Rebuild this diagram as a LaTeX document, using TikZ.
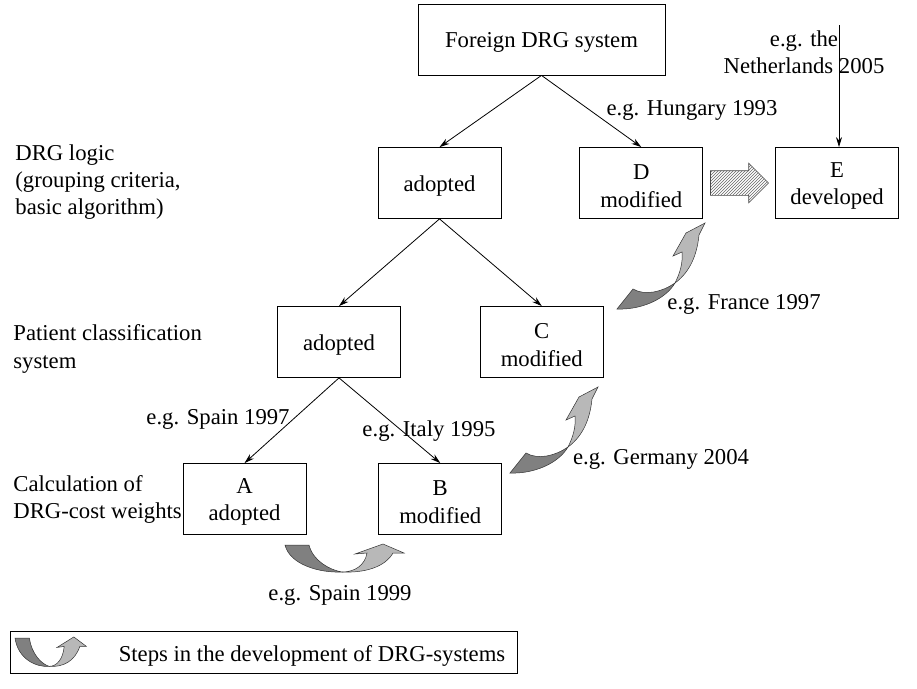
\documentclass[tikz,border=0pt]{standalone}
\usepackage{fontspec}
\setmainfont{Liberation Serif}
\usepackage{tikz}
\usetikzlibrary{positioning, arrows.meta, shapes.arrows, patterns}
\usepackage{xcolor}

\definecolor{ribbondark}{gray}{0.5}
\definecolor{ribbonlight}{gray}{0.72}

\tikzset{
	uturn/.pic={
		\filldraw[fill=ribbondark, draw=black!80, line width=0.5pt] (0,0) .. controls (5,20) and (35,28) .. (57,27) .. controls (45,25) and (28,16) .. (24,0) -- cycle;
		\filldraw[fill=ribbonlight, draw=black!80, line width=0.5pt] (57,27) .. controls (70,27) and (80,20) .. (82,8) -- (70,9) -- (98,-1) -- (119,8) -- (108,8) .. controls (100,22) and (80,28) .. (57,27) -- cycle;
	},
	twist/.pic={
		\filldraw[fill=ribbondark, draw=black!80, line width=0.5pt] (0,0) -- (16,-20) .. controls (28,-13) and (45,-17) .. (58,-26) .. controls (48,-9) and (23,1) .. (0,0) -- cycle;
		\filldraw[fill=ribbonlight, draw=black!80, line width=0.5pt] (58,-26) .. controls (63,-36) and (66,-46) .. (65,-57) -- (56,-53) -- (69,-76) -- (88,-86) -- (82,-74) .. controls (80,-54) and (73,-37) .. (58,-26) -- cycle;
	}
}

\begin{document}
\begin{tikzpicture}[
	x=1pt, y=-1pt,
	line width=0.8pt,
	font=\fontsize{22.7}{27.2}\selectfont,
	stage/.style={draw, minimum width=123pt, minimum height=71pt, align=center, inner sep=2pt, execute at begin node={\rule{0pt}{21.3pt}}},
	twoline/.style={text height=48.4pt},
	note/.style={align=center, inner sep=0pt},
	level/.style={align=left, anchor=west, inner sep=0pt},
	hatcharrow/.style={single arrow, draw=black!70, pattern=north east lines, pattern color=black!60, line width=0.6pt, minimum height=58pt, inner xsep=0pt, inner ysep=12pt, single arrow head extend=7.5pt},
	>={Stealth[length=10pt, width=6pt]}
]
	\useasboundingbox (0,0) rectangle (917,688);

	% boxes
	\node[stage, minimum width=247pt] (foreign) at (541.5,39.5) {Foreign DRG system};
	\node[stage] (logicadopt) at (439.5,183) {adopted};
	\node[stage, twoline, right=78pt of logicadopt] (dmod) {D\\modified};
	\node[stage, twoline, right=72pt of dmod] (edev) {E\\developed};
	\node[stage] (pcadopt) at (339,342) {adopted};
	\node[stage, twoline, right=79pt of pcadopt] (cmod) {C\\modified};
	\node[stage, twoline] (aadopt) at (244.5,499) {A\\adopted};
	\node[stage, twoline, right=72pt of aadopt] (bmod) {B\\modified};
	\node[hatcharrow, right=7pt of dmod] (dtoe) {};

	% levels
	\node[level] (logiclabel) at (15,182) {DRG logic\\(grouping criteria,\\basic algorithm)};
	\node[level] (pclabel) at (13,349) {Patient classification\\system};
	\node[level] (costlabel) at (13,499.5) {Calculation of\\DRG-cost weights};

	% examples
	\node[note] (hungary) at (692,110) {e.g. Hungary 1993};
	\node[note] (netherlands) at (804,52) {e.g. the\\Netherlands 2005};
	\node[note] (france) at (744,304) {e.g. France 1997};
	\node[note] (spain97) at (218,419) {e.g. Spain 1997};
	\node[note] (italy) at (429,431) {e.g. Italy 1995};
	\node[note] (germany) at (661,459) {e.g. Germany 2004};
	\node[note] (spain99) at (340,595) {e.g. Spain 1999};
	\coordinate (nltop) at (839,25);

	\draw[->] (foreign.south) -- (logicadopt.north);
	\draw[->] (foreign.south) -- (dmod.north);
	\draw[->] (logicadopt.south) -- (pcadopt.north);
	\draw[->] (logicadopt.south) -- (cmod.north);
	\draw[->] (pcadopt.south) -- (aadopt.north);
	\draw[->] (pcadopt.south) -- (bmod.north);
	\draw[->] (nltop) -- (nltop |- edev.north);

	% steps
	\pic at (285,545) {uturn};
	\pic at (510,473) {twist};
	\pic at (617,309) {twist};

	% legend
	\node[draw, minimum width=507pt, minimum height=42pt] (legend) at (263.5,652) {};
	\node[note] (legendtext) at (312,656) {Steps in the development of DRG-systems};
	\pic[xscale=0.6, yscale=1.05] at (15,638) {uturn};
\end{tikzpicture}
\end{document}
